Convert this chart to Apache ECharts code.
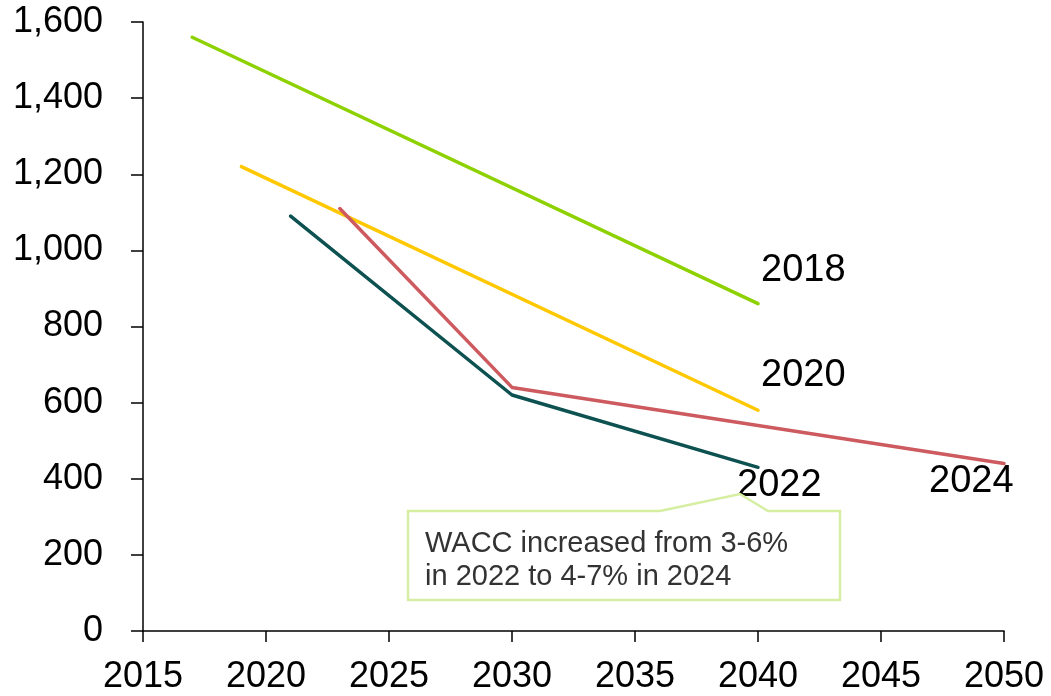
<!DOCTYPE html>
<html>
<head>
<meta charset="utf-8">
<script src="https://cdn.jsdelivr.net/npm/echarts@6/dist/echarts.min.js"></script>
<style>html,body{margin:0;padding:0;background:#fff;}#c{width:1051px;height:696px;}</style>
</head>
<body>
<div id="c"></div>
<script>
const seriesNames = ['2018', '2020', '2022', '2024'];
const s2018 = [[2017, 1560], [2040, 860]];
const s2020 = [[2019, 1220], [2040, 580]];
const s2022 = [[2021, 1090], [2030, 620], [2040, 430]];
const s2024 = [[2023, 1110], [2030, 640], [2050, 440]];
const calloutLines = ['WACC increased from 3-6%', 'in 2022 to 4-7% in 2024'];

const FONT = '"Liberation Sans", Arial, sans-serif';
const colors = ['#8DD100', '#FFC800', '#0D5150', '#CD5A5E'];
const offsets = [[-2, -33], [-2, -35], [-26, 18], [-80, 18]];
const data = [s2018, s2020, s2022, s2024];

const chart = echarts.init(document.getElementById('c'), null, {renderer: 'canvas'});
chart.setOption({
  animation: false,
  backgroundColor: '#fff',
  grid: {left: 143, right: 47, top: 22, bottom: 65, containLabel: false},
  xAxis: {
    type: 'value', min: 2015, max: 2050, interval: 5,
    axisLine: {show: true, onZero: false, lineStyle: {color: '#000', width: 1.5}},
    axisTick: {show: true, inside: false, length: 11, lineStyle: {color: '#000', width: 1.5}},
    axisLabel: {color: '#000', fontSize: 36, fontFamily: FONT, margin: 28,
      formatter: v => String(v)},
    splitLine: {show: false}
  },
  yAxis: {
    type: 'value', min: 0, max: 1600, interval: 200,
    axisLine: {show: true, lineStyle: {color: '#000', width: 1.5}},
    axisTick: {show: true, inside: false, length: 12, lineStyle: {color: '#000', width: 1.5}},
    axisLabel: {color: '#000', fontSize: 36, fontFamily: FONT, margin: 40,
      formatter: v => v.toLocaleString('en-US')},
    splitLine: {show: false}
  },
  series: data.map((d, i) => ({
    name: seriesNames[i],
    type: 'line',
    data: d,
    symbol: 'none',
    lineStyle: {color: colors[i], width: 3.5, cap: 'round'},
    itemStyle: {color: colors[i]},
    z: 2 + i,
    endLabel: {
      show: true, formatter: seriesNames[i], color: '#000',
      fontSize: 38, fontFamily: FONT, offset: offsets[i], distance: 5
    }
  })),
  graphic: [
    {
      type: 'polygon', z: 100,
      shape: {points: [[408, 511], [660, 511], [740, 494], [768, 511], [840, 511], [840, 600], [408, 600]]},
      style: {fill: '#fff', stroke: '#D6EEA2', lineWidth: 2.5}
    },
    {
      type: 'text', z: 101, left: 425, top: 527,
      style: {text: calloutLines.join('\n'), fill: '#333', fontSize: 29, fontFamily: FONT, lineHeight: 33}
    }
  ]
});
</script>
</body>
</html>
